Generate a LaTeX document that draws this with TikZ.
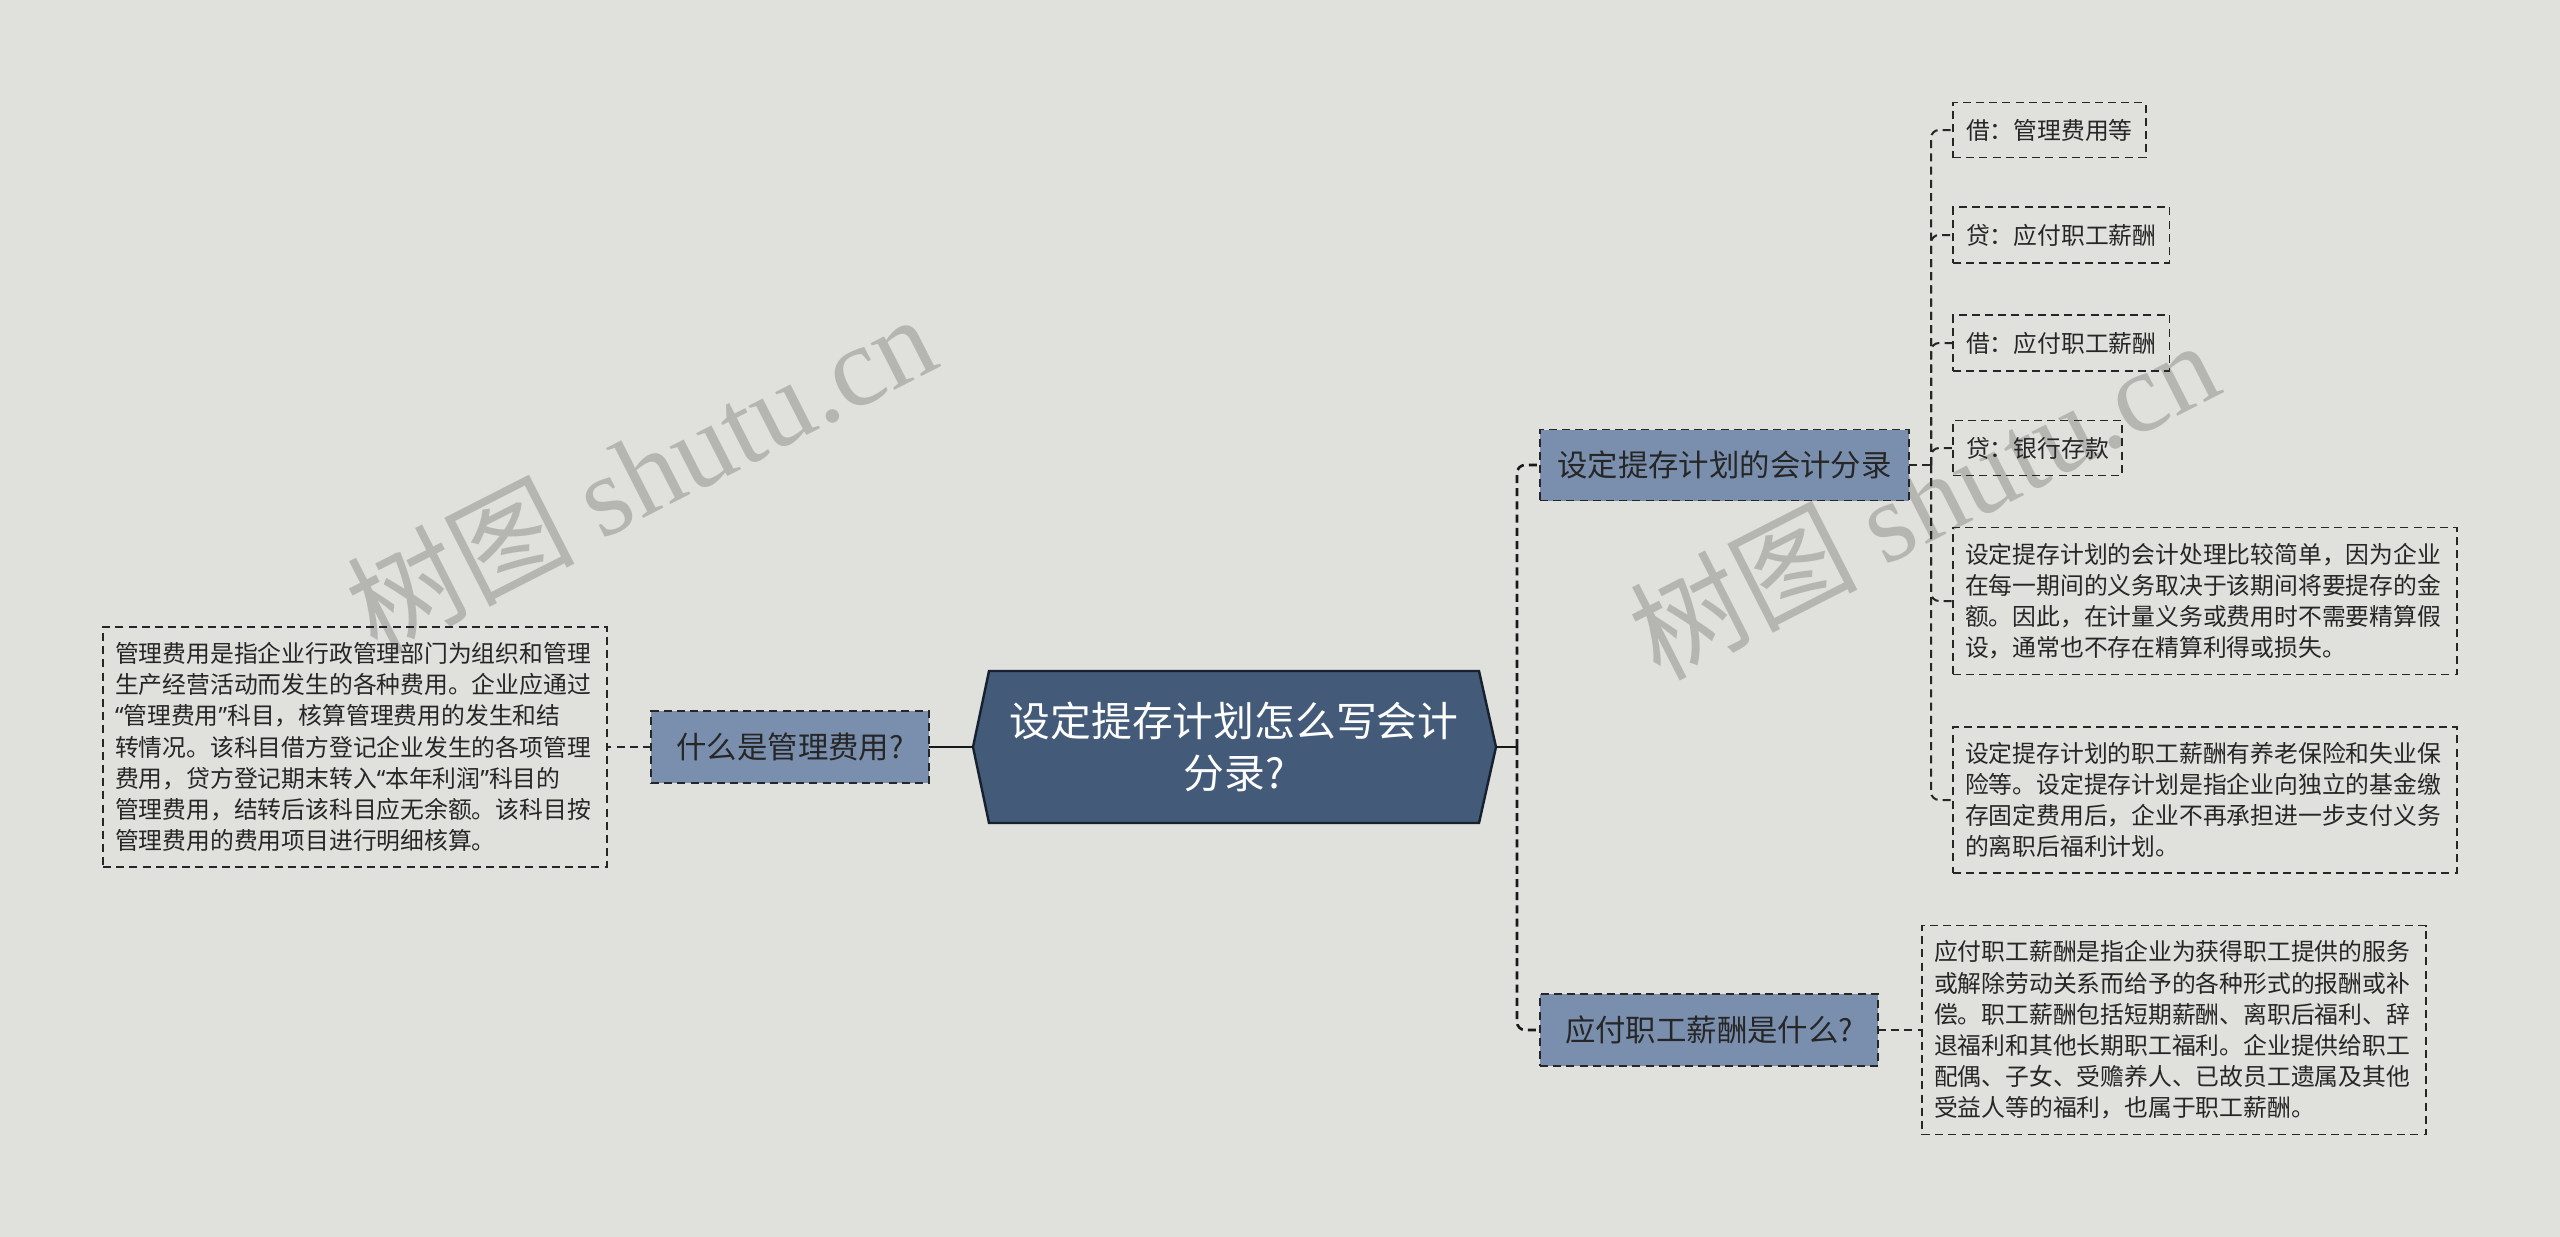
\documentclass[tikz,border=0pt]{standalone}
\usepackage{fontspec}
\setmainfont{Noto Sans CJK SC}
\newfontfamily\wmserif{Liberation Serif}
\newfontfamily\qf{Noto Sans}
\usetikzlibrary{calc}
\definecolor{bg}{HTML}{E0E1DC}
\definecolor{rootfill}{HTML}{435A79}
\definecolor{rootedge}{HTML}{16202E}
\definecolor{midfill}{HTML}{7A8FAE}
\definecolor{txt}{HTML}{262626}
\definecolor{wm}{HTML}{B5B6B1}
\begin{document}
\begin{tikzpicture}[x=0.5pt,y=-0.5pt,
  every node/.style={inner sep=0pt,outer sep=0pt},
  rootbox/.style={minimum width=245pt,minimum height=76pt,text width=235pt,align=center,
    font=\fontsize{20.4pt}{26pt}\selectfont,text=white},
  midbox/.style={draw=black!85,dash pattern=on 4pt off 2.6pt,line width=0.9pt,fill=midfill,
    font=\fontsize{15.2pt}{18pt}\selectfont,text=txt,minimum height=36pt,align=center},
  leafbox/.style={draw=black!85,dash pattern=on 4pt off 2.6pt,line width=0.9pt,
    font=\fontsize{11.9pt}{15.6pt}\selectfont,text=txt,inner xsep=6.5pt,minimum height=27.5pt},
  longleaf/.style={leafbox,text width=240pt,inner xsep=6pt,align=left},
  conn/.style={draw=black!85,line width=1pt,dash pattern=on 4pt off 2.6pt},
  trunk/.style={draw=black!90,line width=1.3pt,dash pattern=on 4pt off 2.6pt},
  solidconn/.style={draw=black!90,line width=1.3pt},
  wmtext/.style={text=wm,font=\fontsize{57pt}{64pt}\selectfont}
]
\useasboundingbox (0,0) rectangle (2560,1237);
\fill[bg] (0,0) rectangle (2560,1237);

% watermarks
\node[wmtext,rotate=27] (wm1) at (640,472) {树图 {\wmserif shutu.cn}};
\node[wmtext,rotate=27] (wm2) at (1923,498) {树图 {\wmserif shutu.cn}};

% root
\node[rootbox] (root) at (1234,747) {\phantom{设定提存计划怎么写会计}\\\phantom{分录?}};
\coordinate (rootW) at (973,747);
\coordinate (rootE) at (1496,747);
\fill[rootfill,draw=rootedge,line width=1.2pt,line join=miter]
  (root.north west) -- (root.north east) -- (rootE) -- (root.south east)
  -- (root.south west) -- (rootW) -- cycle;
\node[rootbox] (roottext) at (root.center) {设定提存计划怎么写会计\\分录?};

% left side
\node[midbox,minimum width=139pt,anchor=east] (lc) at (929,747) {什么是管理费用?};
\node[longleaf,minimum height=120pt,anchor=east] (ll) at (607,747) {管理费用是指企业行政管理部门为组织和管理\\生产经营活动而发生的各种费用。企业应通过\\{\qf “}管理费用{\qf ”}科目，核算管理费用的发生和结\\转情况。该科目借方登记企业发生的各项管理\\费用，贷方登记期末转入{\qf “}本年利润{\qf ”}科目的\\管理费用，结转后该科目应无余额。该科目按\\管理费用的费用项目进行明细核算。};
\draw[solidconn] (rootW) -- (lc.east);
\draw[conn] (lc.west) -- (ll.east);

% right side children
\node[midbox,minimum width=184.5pt,minimum height=35.5pt,anchor=west] (c1) at (1540,465) {设定提存计划的会计分录};
\node[midbox,minimum width=169pt,anchor=west] (c2) at (1540,1030) {应付职工薪酬是什么?};
\coordinate (jR) at (1517,747);
\draw[solidconn] (rootE) -- (jR);
\draw[trunk,rounded corners=4pt] (jR) |- (c1.west);
\draw[trunk,rounded corners=4pt] (jR) |- (c2.west);

% leaves of c1
\node[leafbox,anchor=west] (l1) at (1953,130) {借：管理费用等};
\node[leafbox,anchor=west,minimum height=28pt] (l2) at (1953,235) {贷：应付职工薪酬};
\node[leafbox,anchor=west,minimum height=28pt] (l3) at (1953,343) {借：应付职工薪酬};
\node[leafbox,anchor=west] (l4) at (1953,448) {贷：银行存款};
\node[longleaf,anchor=west,minimum height=73.5pt] (l5) at (1953,601) {设定提存计划的会计处理比较简单，因为企业\\在每一期间的义务取决于该期间将要提存的金\\额。因此，在计量义务或费用时不需要精算假\\设，通常也不存在精算利得或损失。};
\node[longleaf,anchor=west,minimum height=73pt] (l6) at (1953,800) {设定提存计划的职工薪酬有养老保险和失业保\\险等。设定提存计划是指企业向独立的基金缴\\存固定费用后，企业不再承担进一步支付义务\\的离职后福利计划。};
\coordinate (j1) at (1931,465);
\draw[conn] (c1.east) -- (j1);
\foreach \n in {l1,l2,l3,l4,l5,l6}{
  \draw[conn,rounded corners=4pt] (j1) |- (\n.west);
}

% leaf of c2
\node[longleaf,anchor=west,minimum height=104.5pt] (l7) at (1922,1030) {应付职工薪酬是指企业为获得职工提供的服务\\或解除劳动关系而给予的各种形式的报酬或补\\偿。职工薪酬包括短期薪酬、离职后福利、辞\\退福利和其他长期职工福利。企业提供给职工\\配偶、子女、受赡养人、已故员工遗属及其他\\受益人等的福利，也属于职工薪酬。};
\draw[conn] (c2.east) -- (l7.west);
\end{tikzpicture}
\end{document}
